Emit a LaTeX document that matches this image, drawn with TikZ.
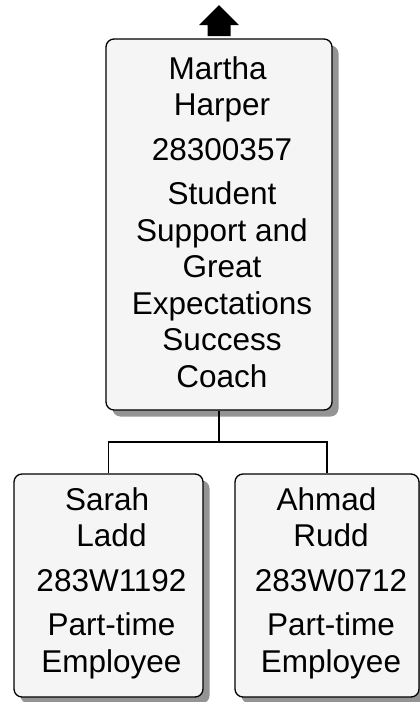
\documentclass[tikz,border=0pt]{standalone}
\usepackage{fontspec}
\setmainfont{Liberation Sans}
\usetikzlibrary{shadows}
\newcommand{\tsp}{\hspace*{0.28em}}
\begin{document}
\begin{tikzpicture}[x=1pt,y=-1pt,
  box/.style={draw=black, line width=1.3pt, fill=black!4, rounded corners=8pt,
    drop shadow={shadow xshift=6.5pt, shadow yshift=-6.5pt, fill=black!42, opacity=1},
    inner sep=0pt},
  lbl/.style={align=center, inner sep=0pt, font=\fontsize{31.5}{36.5}\selectfont},
  conn/.style={draw=black, line width=1.3pt}]
\useasboundingbox (0,0) rectangle (420,702);
% boxes
\node[box, minimum width=226pt, minimum height=371pt] (top) at (219,224.5) {};
\node[box, minimum width=189pt, minimum height=223pt] (c1) at (108.5,585.5) {};
\node[box, minimum width=184pt, minimum height=223pt] (c2) at (327,585.5) {};
% texts
\node[lbl] (ttop) at (222,222) {Martha\tsp\\ Harper\\[8pt] 28300357\\[8pt] Student\tsp\\ Support and\tsp\\ Great\tsp\\ Expectations\tsp\\ Success\tsp\\ Coach};
\node[lbl] (tc1) at (111.5,583) {Sarah\tsp\\ Ladd\\[8pt] 283W1192\\[8pt] Part-time\tsp\\ Employee};
\node[lbl] (tc2) at (331,583) {Ahmad\tsp\\ Rudd\\[8pt] 283W0712\\[8pt] Part-time\tsp\\ Employee};
% connectors
\coordinate (j) at (219,442);
\draw[conn] (top.south) -- (j);
\draw[conn] (j) -| (c1.north);
\draw[conn] (j) -| (c2.north);
% up arrow
\coordinate (ab) at (219,36);
\fill[black] (ab) ++(-11.5,0) -- ++(0,-11) -- ++(-8.5,0) -- (219,5) -- (239,25) -- ++(-8.5,0) -- ++(0,11) -- cycle;
\end{tikzpicture}
\end{document}
